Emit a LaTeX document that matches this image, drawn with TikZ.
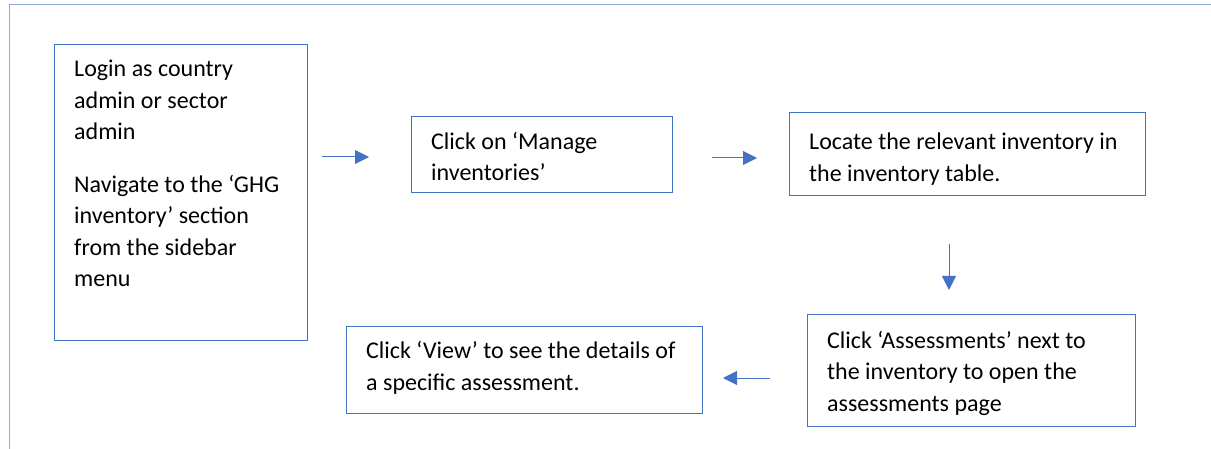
\documentclass[tikz,border=0pt]{standalone}
\usepackage{fontspec}
\setmainfont{Carlito}
\usetikzlibrary{arrows.meta}
\definecolor{boxblue}{HTML}{4472C4}
\definecolor{frameblue}{HTML}{8FAADC}
\begin{document}
\begin{tikzpicture}[x=1pt,y=-1pt,
  box/.style={draw=boxblue,line width=1pt,inner sep=0pt,anchor=north west},
  txt/.style={inner sep=0pt,anchor=base west,align=left,font=\fontsize{24}{31.5}\selectfont},
  arr/.style={draw=boxblue,line width=1pt,-{Triangle[length=14pt,width=14pt]}}]
\useasboundingbox (0,0) rectangle (1211,449);
% outer frame
\draw[frameblue,line width=1pt] (9,449) -- (9,5) -- (1211,5);
% boxes
\node[box,minimum width=253pt,minimum height=296pt] (b1) at (54,44) {};
\node[box,minimum width=261pt,minimum height=76pt] (b2) at (411,116) {};
\node[box,minimum width=356pt,minimum height=83pt] (b3) at (789,112) {};
\node[box,minimum width=328pt,minimum height=112pt] (b4) at (807,314) {};
\node[box,minimum width=356pt,minimum height=87pt] (b5) at (346,326) {};
% texts (anchored at the baseline of their last line)
\node[txt] (t1) at (74,287) {Login as country\\admin or sector\\admin\\[21.5pt]Navigate to the ‘GHG\\inventory’ section\\from the sidebar\\menu};
\node[txt] (t2) at (431,181) {Click on ‘Manage\\inventories’};
\node[txt] (t3) at (809,181.5) {Locate the relevant inventory in\\the inventory table.};
\node[txt] (t4) at (827,411) {Click ‘Assessments’ next to\\the inventory to open the\\assessments page};
\node[txt] (t5) at (366,390) {Click ‘View’ to see the details of\\a specific assessment.};
% arrows
\coordinate (a1s) at (322,157);
\coordinate (a1e) at (369,157);
\coordinate (a2s) at (712,158);
\coordinate (a2e) at (757,158);
\coordinate (a3s) at (949,244);
\coordinate (a3e) at (949,290);
\coordinate (a4s) at (770,378);
\coordinate (a4e) at (723,378);
\draw[arr] (a1s) -- (a1e);
\draw[arr] (a2s) -- (a2e);
\draw[arr] (a3s) -- (a3e);
\draw[arr] (a4s) -- (a4e);
\end{tikzpicture}
\end{document}
